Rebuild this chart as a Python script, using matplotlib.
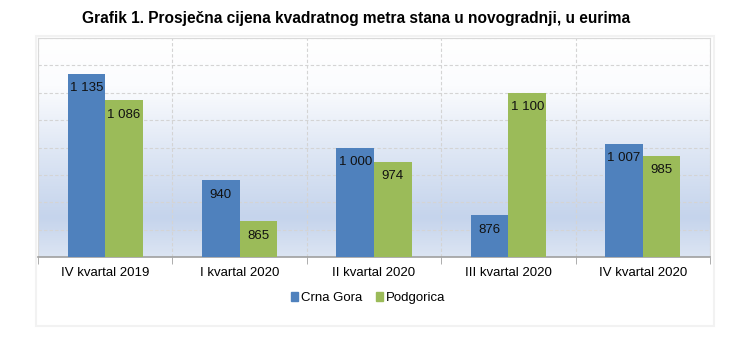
import numpy as np
import matplotlib.pyplot as plt
from matplotlib.colors import LinearSegmentedColormap
from matplotlib.patches import Rectangle, Patch

plt.rcParams['font.family'] = ['Liberation Sans', 'DejaVu Sans']

categories = ["IV kvartal 2019", "I kvartal 2020", "II kvartal 2020",
              "III kvartal 2020", "IV kvartal 2020"]
crna_gora = [1135, 940, 1000, 876, 1007]
podgorica = [1086, 865, 974, 1100, 985]
series_names = ["Crna Gora", "Podgorica"]

blue = "#4f81bd"
green = "#9bbb59"

fig = plt.figure(figsize=(7.51, 3.53), dpi=100)

# outer chart frame (faint shadow)
frame = Rectangle((36 / 751, 1 - 326 / 353), (714 - 36) / 751, (326 - 36) / 353,
                  transform=fig.transFigure, facecolor="white",
                  edgecolor="#f2f2f2", linewidth=1.5, zorder=0)
fig.patches.append(frame)

ax = fig.add_axes([38 / 751, 1 - 257 / 353, (710 - 38) / 751, (257 - 38) / 353])
ax.set_zorder(1)

# gradient background
cmap = LinearSegmentedColormap.from_list(
    "bg", [(0.0, "#dce5f3"), (0.18, "#c5d4ec"), (0.5, "#e0e8f5"), (0.78, "#fbfcfe"), (1.0, "#ffffff")])
grad = np.linspace(0, 1, 256).reshape(-1, 1)
ax.imshow(grad, aspect="auto", cmap=cmap, origin="lower",
          extent=[-0.5, len(categories) - 0.5, 800, 1200], zorder=0)

x = np.arange(len(categories))
w = 0.28
b1 = ax.bar(x - w / 2, crna_gora, w, color=blue, zorder=3, label=series_names[0])
b2 = ax.bar(x + w / 2, podgorica, w, color=green, zorder=3, label=series_names[1])

def fmt(v):
    return f"{v:,}".replace(",", " ")

for bars, vals in ((b1, crna_gora), (b2, podgorica)):
    for r, v in zip(bars, vals):
        ax.annotate(fmt(v), (r.get_x() + r.get_width() / 2, v), xytext=(0, -6),
                    textcoords="offset points", ha="center", va="top",
                    fontsize=9.5, color="#111111", zorder=4)

ax.set_xlim(-0.5, len(categories) - 0.5)
ax.set_ylim(800, 1200)
ax.set_yticks(np.arange(800, 1201, 50))
ax.set_yticklabels([])
ax.tick_params(axis="y", length=0)

ax.set_xticks(x)
ax.set_xticklabels(categories, fontsize=9.5)
ax.tick_params(axis="x", which="major", length=0, pad=7)
ax.set_xticks(np.arange(-0.5, len(categories), 1), minor=True)
ax.tick_params(axis="x", which="minor", length=5, color="#a0a0a0", direction="out")

ax.grid(axis="y", which="major", color="#d4d4d4", linestyle=(0, (3, 2)), linewidth=0.8, zorder=1)
ax.grid(axis="x", which="minor", color="#d4d4d4", linestyle=(0, (3, 2)), linewidth=0.8, zorder=1)
ax.set_axisbelow(True)

for s in ("top", "right", "left"):
    ax.spines[s].set_color("#d9d9d9")
    ax.spines[s].set_linewidth(0.8)
ax.spines["bottom"].set_color("#a0a0a0")
ax.spines["bottom"].set_linewidth(1.2)

fig.text(356 / 751, 1 - 18 / 353, "Grafik 1. Prosječna cijena kvadratnog metra stana u novogradnji, u eurima",
         ha="center", va="center", fontsize=11.2, fontweight="bold")

handles = [Patch(color=blue), Patch(color=green)]
fig.legend(handles, series_names, loc="center", bbox_to_anchor=(368 / 751, 1 - 298 / 353),
           ncol=2, frameon=False, fontsize=9.5, handlelength=0.6, handleheight=0.6,
           handletextpad=0.2, columnspacing=1.0)

fig.savefig("out.png", dpi=100)
